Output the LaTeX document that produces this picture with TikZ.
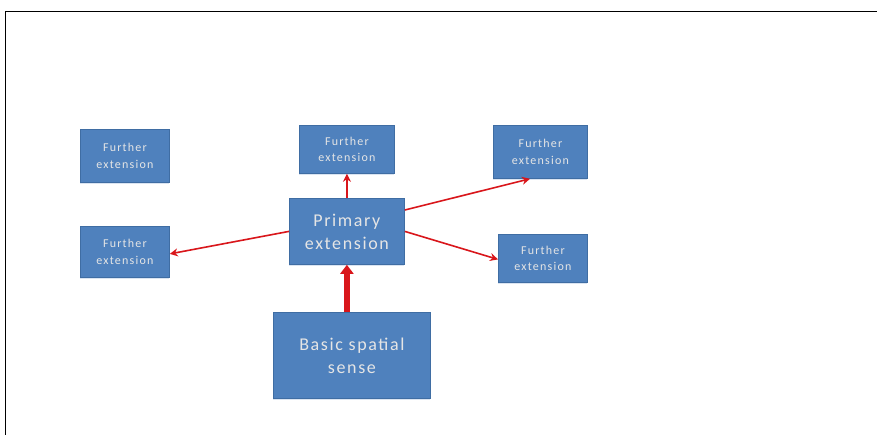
\documentclass[tikz,border=0pt]{standalone}
\usepackage{fontspec}
\setmainfont{Carlito}
\newfontfamily\widesmall[LetterSpace=10]{Carlito}
\newfontfamily\widebig[LetterSpace=9]{Carlito}
\usetikzlibrary{arrows.meta,shadows}
\definecolor{boxblue}{HTML}{4F81BD}
\definecolor{boxedge}{HTML}{3F6DA3}
\definecolor{arrred}{HTML}{D9161B}
\tikzset{
  box/.style={draw=boxedge, line width=0.8pt, fill=boxblue, text=white!90!black,
    align=center, inner sep=0pt, anchor=north west,
    drop shadow={shadow xshift=0pt, shadow yshift=-2pt, opacity=0.35, fill=boxblue!60}},
  small/.style={font=\widesmall\fontsize{12}{16.5}\selectfont},
  big/.style={font=\widebig\fontsize{18}{23}\selectfont},
  conn/.style={draw=arrred, line width=1.6pt, -{Stealth[length=8pt,width=8pt]}},
  thick conn/.style={draw=arrred, line width=6pt, -{Stealth[length=9pt,width=13pt,inset=0pt]}},
}
\begin{document}
\begin{tikzpicture}[x=1pt,y=-1pt]
\useasboundingbox (0,0) rectangle (877,435);
\fill[white] (0,0) rectangle (877,435);
\draw[line width=1pt] (5,435) -- (5,12) -- (877,12);

\node[box, small, minimum width=89pt, minimum height=53pt] (fe1) at (80,129) {Further\\extension};
\node[box, small, minimum width=89pt, minimum height=51pt] (fe2) at (80,226) {Further\\extension};
\node[box, small, minimum width=95pt, minimum height=48pt] (fe3) at (299,125) {Further\\extension};
\node[box, small, minimum width=94pt, minimum height=53pt] (fe4) at (493,125) {Further\\extension};
\node[box, small, minimum width=89pt, minimum height=48pt] (fe5) at (498,234) {Further\\extension};
\node[box, big, minimum width=115pt, minimum height=66pt] (pri) at (289,198) {Primary\\extension};
\node[box, big, minimum width=157pt, minimum height=86pt] (bas) at (273,312) {Basic spatial\\sense};

\draw[conn] (pri.north) -- (fe3.south);
\draw[conn] (pri.west) -- ([yshift=-2pt]fe2.east);
\draw[conn] ([yshift=-12pt]pri.north east) -- ([xshift=37pt]fe4.south west);
\draw[conn] (pri.east) -- ([yshift=-1pt]fe5.west);
\draw[thick conn] (bas.north -| pri.south) -- (pri.south);
\end{tikzpicture}
\end{document}
